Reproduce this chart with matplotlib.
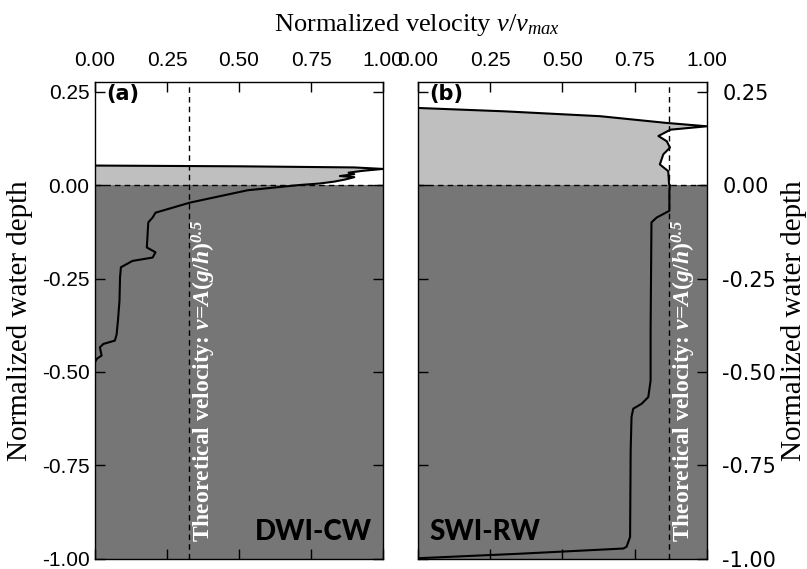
import numpy as np
import matplotlib
matplotlib.use("Agg")
import matplotlib.pyplot as plt

plt.rcParams['axes.unicode_minus'] = False
plt.rcParams['mathtext.fontset'] = 'custom'
plt.rcParams['mathtext.rm'] = 'Liberation Serif'
plt.rcParams['mathtext.it'] = 'Liberation Serif:italic'
plt.rcParams['mathtext.bf'] = 'Liberation Serif:bold'
plt.rcParams['mathtext.bfit'] = 'Liberation Serif:italic:bold'

# 패널 (a) DWI-CW : 정규화 속도 / 정규화 수심
va = [0.00, 0.50, 0.90, 1.00, 0.93, 0.88, 0.90, 0.85, 0.90, 0.87, 0.83, 0.78, 0.71,
      0.53, 0.33, 0.21, 0.20, 0.185, 0.18, 0.21, 0.20, 0.13, 0.09, 0.087, 0.085,
      0.08, 0.075, 0.069, 0.029, 0.017, 0.023, 0.006, 0.00]
da = [0.052, 0.050, 0.047, 0.043, 0.038, 0.033, 0.029, 0.024, 0.021, 0.015, 0.009, 0.004, 0.0,
      -0.014, -0.047, -0.074, -0.087, -0.10, -0.167, -0.18, -0.194, -0.203, -0.22, -0.247, -0.31,
      -0.36, -0.40, -0.416, -0.425, -0.434, -0.456, -0.465, -0.474]

# 패널 (b) SWI-RW
vb = [0.00, 0.30, 0.63, 0.86, 1.00, 0.874, 0.832, 0.861, 0.872, 0.849, 0.837, 0.866, 0.869,
      0.872, 0.87, 0.87, 0.826, 0.808, 0.805, 0.805, 0.797, 0.774, 0.745, 0.739, 0.736,
      0.734, 0.722, 0.711, 0.35, 0.00]
db = [0.206, 0.197, 0.184, 0.166, 0.157, 0.148, 0.131, 0.117, 0.10, 0.082, 0.055, 0.037, 0.002,
      0.0, -0.016, -0.069, -0.087, -0.10, -0.39, -0.523, -0.567, -0.585, -0.598, -0.62, -0.709,
      -0.941, -0.967, -0.972, -0.986, -0.998]

theory = [0.327, 0.87]   # 이론 속도 v=A(g/h)^0.5
names = ['DWI-CW', 'SWI-RW']
tags = ['(a)', '(b)']
ticks_x = [0.0, 0.25, 0.5, 0.75, 1.0]
ticks_y = [0.25, 0.0, -0.25, -0.5, -0.75, -1.0]

dark = '#767676'
light = '#bfbfbf'

fig = plt.figure(figsize=(8.07, 5.69), dpi=100)
ax1 = fig.add_axes([0.1177, 0.0176, 0.357, 0.838])
ax2 = fig.add_axes([0.518, 0.0176, 0.358, 0.838])

for i, (ax, v, d) in enumerate([(ax1, va, da), (ax2, vb, db)]):
    v = np.array(v)
    d = np.array(d)
    ax.set_xlim(0, 1)
    ax.set_ylim(-1, 0.275)
    # 수면 아래는 진한 회색
    ax.axhspan(-1, 0, color=dark, lw=0, zorder=0)
    # 수면 위 흐름은 연한 회색
    up = d >= 0
    ax.fill(np.r_[v[up], 0], np.r_[d[up], 0], color=light, lw=0, zorder=1)
    ax.plot(v, d, color='black', lw=1.5, zorder=3)
    ax.axhline(0, color='black', lw=1, ls=(0, (4, 3)), zorder=2)
    ax.axvline(theory[i], color='black', lw=1, ls=(0, (4, 3)), zorder=2)

    ax.text(theory[i] + 0.05, -0.955,
            r'Theoretical velocity: $\mathbfit{v}$=$\mathbfit{A}$($\mathbfit{g}$/$\mathbfit{h}$)$^{\mathbfit{0.5}}$',
            rotation=90, color='white', fontsize=17, fontweight='bold',
            family='Liberation Serif', ha='center', va='bottom', zorder=4)
    ax.text(0.04, 0.27, tags[i], fontsize=15, fontweight='bold', family='DejaVu Sans',
            ha='left', va='top', zorder=4)
    if i == 0:
        ax.text(0.96, -0.95, names[i], fontsize=20, fontweight='black', family='Lato',
                ha='right', va='baseline', zorder=4)
    else:
        ax.text(0.04, -0.95, names[i], fontsize=20, fontweight='black', family='Lato',
                ha='left', va='baseline', zorder=4)

    ax.set_xticks(ticks_x)
    ax.set_yticks(ticks_y)
    ax.set_xticklabels(['%.2f' % t for t in ticks_x])
    ax.set_yticklabels(['%.2f' % t for t in ticks_y])
    ax.tick_params(direction='in', length=7, width=1, top=True, bottom=True,
                   left=True, right=True, labeltop=True, labelbottom=False,
                   labelsize=15, pad=4)
    ax.tick_params(axis='x', pad=8.5)
    for lab in ax.get_xticklabels() + ax.get_yticklabels():
        lab.set_family('Liberation Sans')
    for s in ax.spines.values():
        s.set_linewidth(1)
        s.set_zorder(5)
    ax.set_ylabel('Normalized water depth', fontsize=21, family='Liberation Serif')

ax1.tick_params(labelleft=True, labelright=False)
ax2.tick_params(labelleft=False, labelright=True)
ax2.tick_params(axis='y', pad=11)
ax2.yaxis.set_label_position('right')
ax1.yaxis.set_label_coords(-0.215, 0.5)
ax2.yaxis.set_label_coords(1.255, 0.5)

fig.text(0.517, 0.956, r'Normalized velocity $v/v_{max}$', fontsize=19,
         family='Liberation Serif', ha='center', va='center')

fig.savefig('out.png', dpi=100)
